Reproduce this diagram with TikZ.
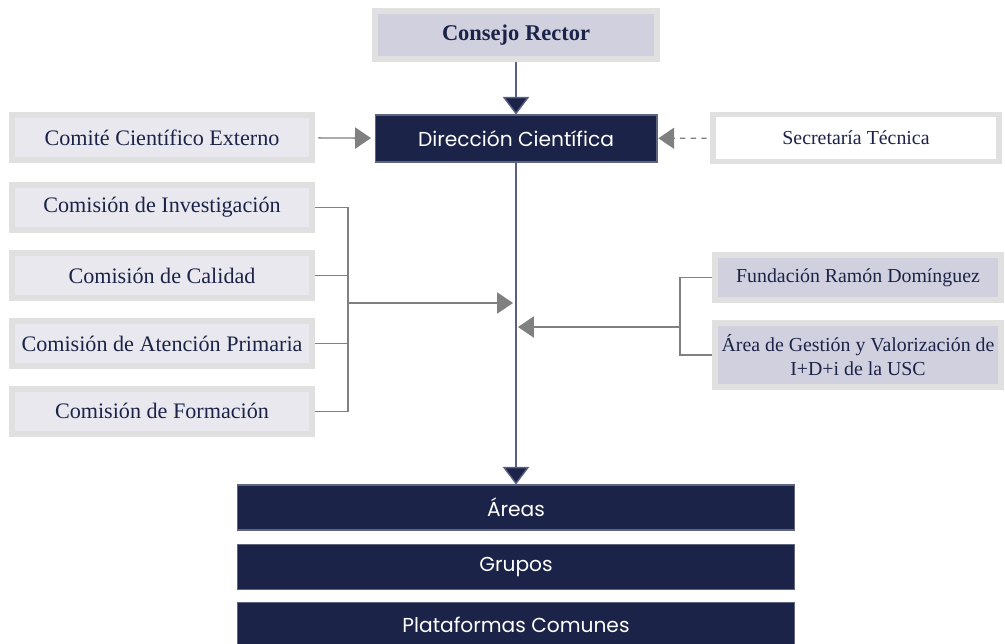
\documentclass[tikz,border=0pt]{standalone}
\usepackage{fontspec}
\setmainfont{Liberation Serif}
\newfontfamily\boxsans{Poppins}
\usetikzlibrary{arrows.meta,positioning}
\definecolor{usnavy}{RGB}{28,35,72}
\definecolor{uslav}{RGB}{208,208,222}
\definecolor{uspale}{RGB}{232,232,238}
\definecolor{usedge}{RGB}{224,224,224}
\definecolor{usarrow}{RGB}{128,128,128}
\definecolor{usline}{RGB}{90,96,130}
\tikzset{
  organ/.style={draw=usedge, line width=3.4pt, fill=uspale, text=usnavy,
    font=\fontsize{12.6}{14}\selectfont, inner sep=0pt, align=center,
    minimum width=6.02cm, minimum height=0.9cm},
  support/.style={organ, fill=uslav, font=\fontsize{11.3}{13.5}\selectfont, minimum width=5.74cm},
  navybox/.style={fill=usnavy, draw=usnavy!70!white, line width=0.6pt, text=white,
    font=\boxsans\fontsize{11.5}{13}\selectfont, inner sep=0pt},
  link/.style={draw=usarrow, line width=0.8pt},
  tip/.style={-{Triangle[length=9pt,width=12pt]}},
  mainlink/.style={draw=usline, line width=0.8pt, -{Triangle[length=10pt,width=15pt,fill=usnavy]}}
}

\begin{document}
\begin{tikzpicture}[x=0.02cm, y=-0.02cm]
  \useasboundingbox (0,0) rectangle (1005,643);

  % top
  \node [organ, fill=uslav, font=\bfseries\fontsize{12.8}{14}\selectfont,
         minimum width=5.64cm, minimum height=0.96cm] (consejo) at (516,35) {Consejo Rector};
  \node [navybox, minimum width=5.64cm, minimum height=0.94cm] (dir) at (516,138.5) {Dirección Científica};

  \node [organ] (comite) at (162,137.5) {Comité Científico Externo};
  \node [support, fill=white, minimum height=0.94cm] (secre) at (856,138) {Secretaría Técnica};

  % comisiones
  \node [organ] (inv) at (162,207.5) {Comisión de Investigación};
  \node [organ, below=0.34cm of inv] (cal) {Comisión de Calidad};
  \node [organ, below=0.34cm of cal] (aten) {Comisión de Atención Primaria};
  \node [organ, below=0.34cm of aten] (form) {Comisión de Formación};

  % apoyo
  \node [support] (fund) at (858,277.5) {Fundación Ramón Domínguez};
  \node [support, minimum height=1.28cm] (gest) at (858,355)
        {Área de Gestión y Valorización de\\ I+D+i de la USC};

  % bottom
  \node [navybox, minimum width=11.16cm, minimum height=0.9cm] (areas) at (516,507.5) {Áreas};
  \node [navybox, minimum width=11.16cm, minimum height=0.9cm, below=0.27cm of areas] (grupos) {Grupos};
  \node [navybox, minimum width=11.16cm, minimum height=0.9cm, below=0.23cm of grupos] (plat) {Plataformas Comunes};

  \draw [mainlink] (consejo) -- (dir);
  \draw [mainlink] (dir) -- (areas);

  \draw [link, tip, shorten <=1.7pt, shorten >=2pt] (comite) -- (dir);
  \draw [link, tip, dashed, shorten <=1.7pt, shorten >=0.5pt] (secre) -- (dir);

  % left bracket
  \coordinate (lbar) at (348,303);
  \coordinate (lhit) at (513,303);
  \foreach \c in {inv,cal,aten,form}
    \draw [link] (\c.east) -| (lbar);
  \draw [link, tip] (lbar) -- (lhit);

  % right bracket
  \coordinate (rbar) at (680,327);
  \coordinate (rhit) at (518,327);
  \draw [link] (fund.west) -| (rbar);
  \draw [link] (gest.west) -| (rbar);
  \draw [link, tip] (rbar) -- (rhit);
\end{tikzpicture}
\end{document}
